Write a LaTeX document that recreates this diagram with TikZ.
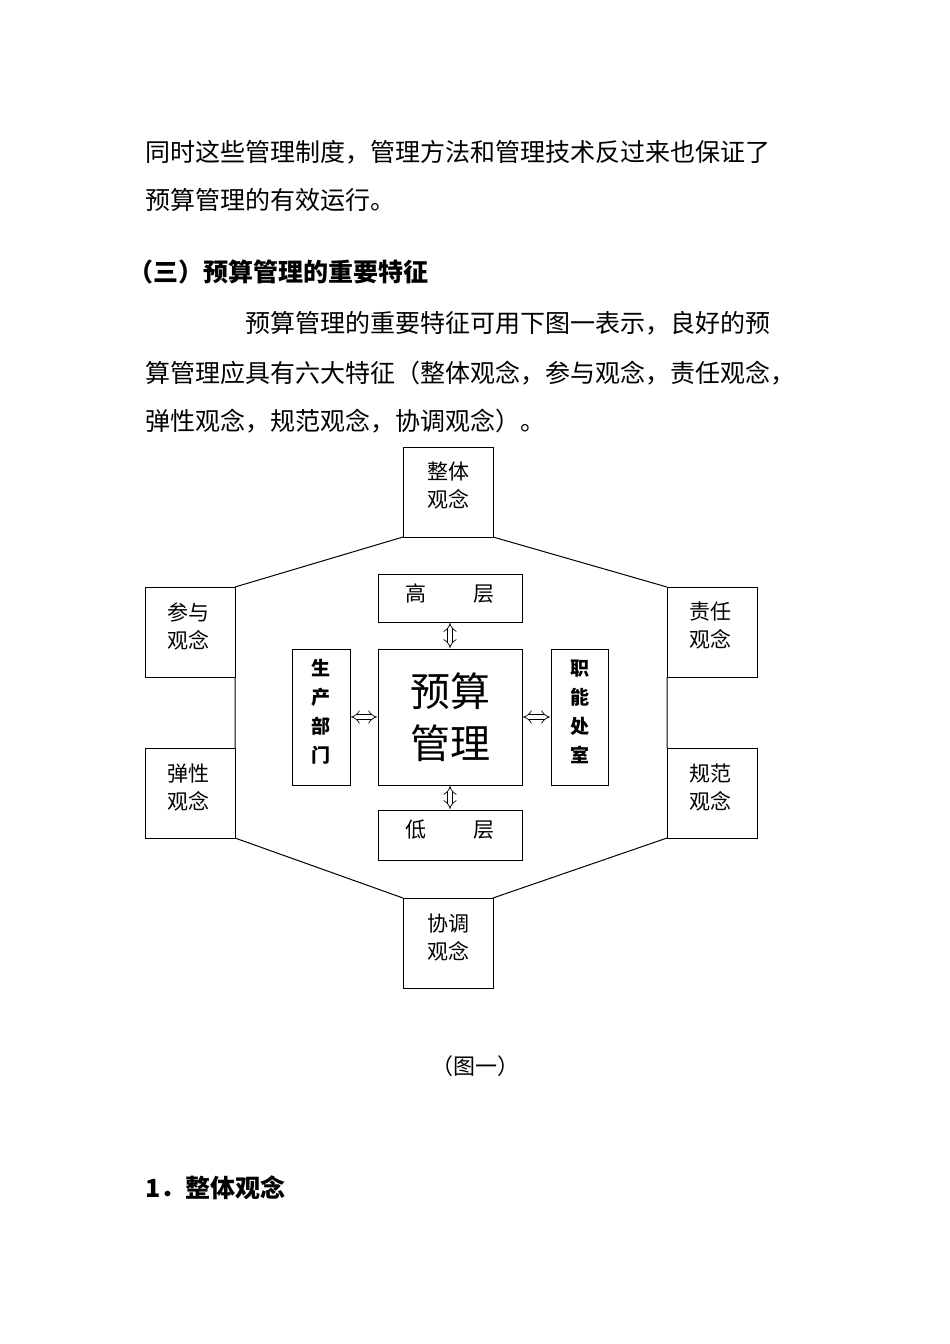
\documentclass[tikz,border=0pt]{standalone}
\usepackage{fontspec}
\setmainfont{Noto Sans CJK SC}
\newfontfamily\cjkb[BoldFont={Noto Sans CJK SC Bold}]{Noto Sans CJK SC}
\usetikzlibrary{arrows.meta}
\begin{document}
\begin{tikzpicture}[x=1pt,y=-1pt,
  bx/.style={draw,line width=1pt},
  tx/.style={anchor=west,inner sep=0pt,font=\fontsize{25}{30}\selectfont},
  lb/.style={font=\fontsize{21}{28}\selectfont,align=center},
  dbl/.style={double,double distance=4pt,line width=0.7pt,{Implies}-{Implies}}]
\useasboundingbox[fill=white] (0,0) rectangle (950,1344);
\node[tx] (t1) at (145,152) {同时这些管理制度，管理方法和管理技术反过来也保证了};
\node[tx] (t2) at (145,200) {预算管理的有效运行。};
\node[tx,font=\fontsize{25}{30}\selectfont\bfseries] (t3) at (128,272) {（三）预算管理的重要特征};
\node[tx] (t4) at (245,323) {预算管理的重要特征可用下图一表示，良好的预};
\node[tx] (t5) at (145,373) {算管理应具有六大特征（整体观念，参与观念，责任观念，};
\node[tx] (t6) at (145,421) {弹性观念，规范观念，协调观念）。};
% boxes
\draw[bx] (403,447) rectangle (493,537); \node[lb] (zt) at (448,486) {整体\\观念};
\draw[bx] (145,587) rectangle (235,677); \node[lb] (cy) at (188,626) {参与\\观念};
\draw[bx] (667,587) rectangle (757,677); \node[lb] (zr) at (710,626) {责任\\观念};
\draw[bx] (145,748) rectangle (235,838); \node[lb] (tx2) at (188,787) {弹性\\观念};
\draw[bx] (667,748) rectangle (757,838); \node[lb] (gf) at (710,787) {规范\\观念};
\draw[bx] (403,898) rectangle (493,988); \node[lb] (xt) at (448,937) {协调\\观念};
% hexagon
\draw[line width=1pt] (403,537) -- (235,587) (493,537) -- (667,587)
  (235,677) -- (235,748) (667,677) -- (667,748)
  (235,838) -- (403,898) (667,838) -- (493,898);
% inner
\draw[bx] (378,574) rectangle (522,622); \node[lb] (gc) at (450,594) {高\hspace{2.2em}层};
\draw[bx] (378,810) rectangle (522,860); \node[lb] (dc) at (450,830) {低\hspace{2.2em}层};
\draw[bx] (378,649) rectangle (522,785); \node[font=\fontsize{40}{52}\selectfont,align=center] (ys) at (450,717) {预算\\管理};
\draw[bx] (292,649) rectangle (350,785); \node[font=\fontsize{19}{29}\selectfont\bfseries,align=center] (sc) at (321,712) {生\\产\\部\\门};
\draw[bx] (551,649) rectangle (608,785); \node[font=\fontsize{19}{29}\selectfont\bfseries,align=center] (zn) at (580,712) {职\\能\\处\\室};
\coordinate (a1) at (450,623); \coordinate (a2) at (450,648);
\coordinate (b1) at (450,786); \coordinate (b2) at (450,809);
\coordinate (c1) at (351,717); \coordinate (c2) at (377,717);
\coordinate (d1) at (523,717); \coordinate (d2) at (550,717);
\draw[dbl] (a1) -- (a2); \draw[dbl] (b1) -- (b2);
\draw[dbl] (c1) -- (c2); \draw[dbl] (d1) -- (d2);
\node[font=\fontsize{22}{26}\selectfont] (cap) at (475,1066) {（图一）};
\node[tx,font=\fontsize{25}{30}\selectfont\bfseries] (h1) at (145,1188) {1．整体观念};
\end{tikzpicture}
\end{document}
